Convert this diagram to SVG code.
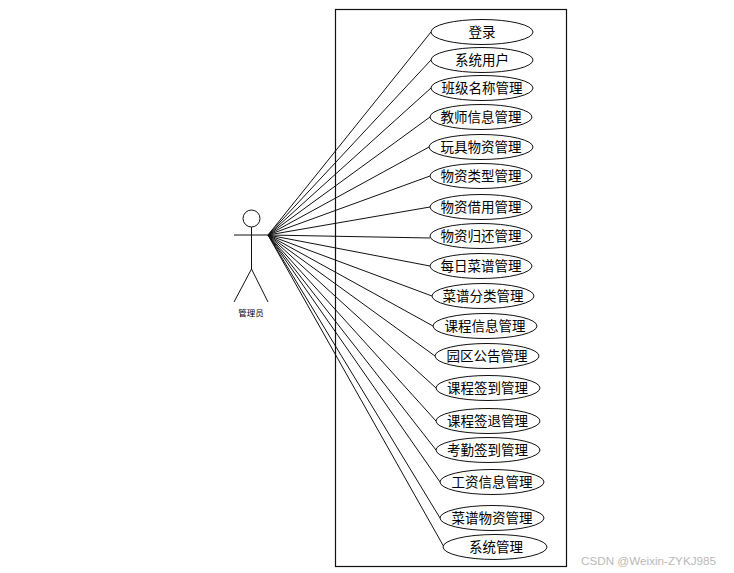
<svg xmlns="http://www.w3.org/2000/svg" width="734" height="573" viewBox="0 0 734 573">
<style>
.l{stroke:#111;stroke-width:1;fill:none}
.e{fill:#fff;stroke:#111;stroke-width:1}
.t{font-family:"Noto Sans CJK SC","Liberation Sans",sans-serif;font-size:13.500px;fill:#000;text-anchor:middle}
.s{font-family:"Noto Sans CJK SC","Liberation Sans",sans-serif;font-size:8.500px;fill:#000;text-anchor:middle}
.w{font-family:"Liberation Sans",sans-serif;font-size:11.700px;fill:#b9b9b9}
</style>
<rect width="734" height="573" fill="#fff"/>
<rect id="boundary" x="335.500" y="9.500" width="231" height="557" fill="none" stroke="#111" stroke-width="1.200"/>
<g id="connectors" class="l">
<path d="M268 235L431 32M268 235L431 60M268 235L431 88M268 235L430 117M268 235L429 147M268 235L430 176M268 235L430 207M268 235L430 238M268 235L430 266M268 235L432 296M268 235L433 326M268 235L435 356M268 235L436 388M268 235L436 421M268 235L436 450M268 235L440 482M268 235L440 518M268 235L444 547"/>
</g>
<g id="actor" class="l">
<circle cx="251.500" cy="218.500" r="8.500"/>
<path d="M251.500 227V269M234 235H268M251.500 269L234 302M251.500 269L268 302"/>
<text class="s" x="251" y="316" stroke="none">管理员</text>
</g>
<g id="n1"><ellipse class="e" cx="482" cy="32" rx="51" ry="12.500"/><text class="t" x="482" y="36.500">登录</text></g>
<g id="n2"><ellipse class="e" cx="482" cy="60" rx="51" ry="12.500"/><text class="t" x="482" y="64.500">系统用户</text></g>
<g id="n3"><ellipse class="e" cx="482" cy="88" rx="51" ry="12.500"/><text class="t" x="482" y="92.500">班级名称管理</text></g>
<g id="n4"><ellipse class="e" cx="481" cy="117" rx="51" ry="12.500"/><text class="t" x="481" y="121.500">教师信息管理</text></g>
<g id="n5"><ellipse class="e" cx="481" cy="147" rx="52" ry="12.500"/><text class="t" x="481" y="151.500">玩具物资管理</text></g>
<g id="n6"><ellipse class="e" cx="481" cy="176" rx="51" ry="12.500"/><text class="t" x="481" y="180.500">物资类型管理</text></g>
<g id="n7"><ellipse class="e" cx="481" cy="207" rx="51" ry="12.500"/><text class="t" x="481" y="211.500">物资借用管理</text></g>
<g id="n8"><ellipse class="e" cx="481" cy="236" rx="51" ry="12.500"/><text class="t" x="481" y="240.500">物资归还管理</text></g>
<g id="n9"><ellipse class="e" cx="481" cy="266" rx="51" ry="12.500"/><text class="t" x="481" y="270.500">每日菜谱管理</text></g>
<g id="n10"><ellipse class="e" cx="483" cy="296" rx="51" ry="12.500"/><text class="t" x="483" y="300.500">菜谱分类管理</text></g>
<g id="n11"><ellipse class="e" cx="485" cy="326" rx="52" ry="12.500"/><text class="t" x="485" y="330.500">课程信息管理</text></g>
<g id="n12"><ellipse class="e" cx="487" cy="356" rx="52" ry="12.500"/><text class="t" x="487" y="360.500">园区公告管理</text></g>
<g id="n13"><ellipse class="e" cx="488" cy="388" rx="52" ry="12.500"/><text class="t" x="487.500" y="392.500">课程签到管理</text></g>
<g id="n14"><ellipse class="e" cx="488" cy="421" rx="52" ry="12.500"/><text class="t" x="487.500" y="425.500">课程签退管理</text></g>
<g id="n15"><ellipse class="e" cx="488" cy="450" rx="52" ry="12.500"/><text class="t" x="487.500" y="454.500">考勤签到管理</text></g>
<g id="n16"><ellipse class="e" cx="492" cy="482" rx="52" ry="12.500"/><text class="t" x="492" y="486.500">工资信息管理</text></g>
<g id="n17"><ellipse class="e" cx="492" cy="518" rx="52" ry="12.500"/><text class="t" x="492" y="522.500">菜谱物资管理</text></g>
<g id="n18"><ellipse class="e" cx="495" cy="547" rx="52" ry="12.500"/><text class="t" x="496" y="551.500">系统管理</text></g>
<text class="w" x="581" y="565">CSDN @Weixin-ZYKJ985</text>
</svg>
